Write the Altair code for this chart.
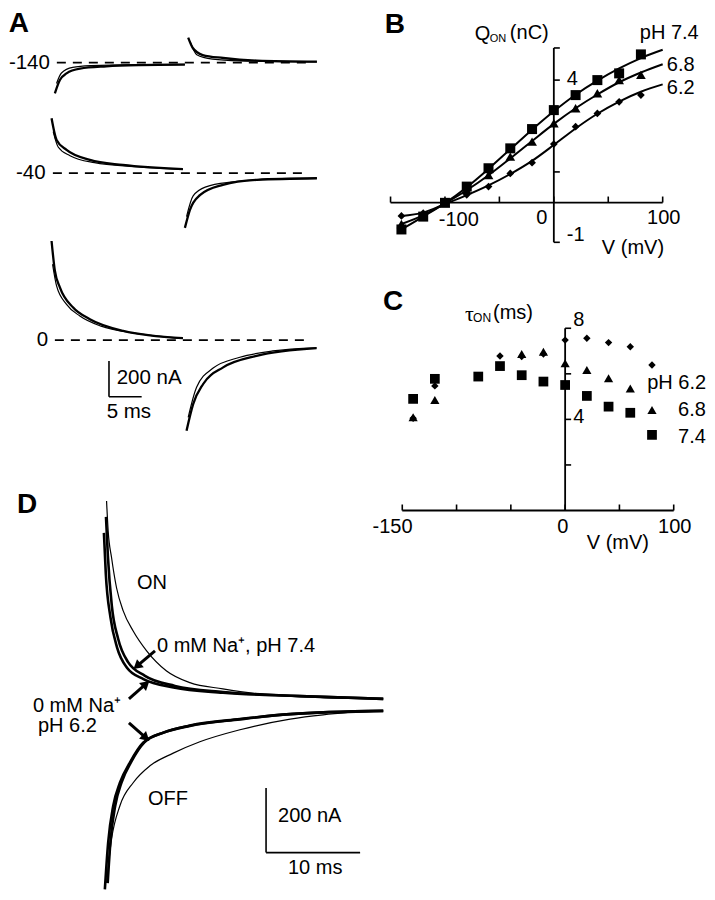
import math
import altair as alt
import pandas as pd

FONT = "Liberation Sans"

# ================= Panel A : currents (ms, nA from each row's own baseline) =================
A_m140_on_thick_t = [0.0, 0.76, 1.77, 3.8, 7.8, 12.9, 19.7]
A_m140_on_thick_i = [-176, -100, -62, -35, -22, -15, -12]
A_m140_on_thin_t = [0.25, 1.0, 2.7, 5.5, 12.0, 19.7]
A_m140_on_thin_i = [-120, -60, -28, -18, -12, -11]
A_m140_off_thick_t = [20.2, 20.9, 22.4, 25.5, 30.6, 39.7]
A_m140_off_thick_i = [142, 83, 43, 26, 11, 5]
A_m140_off_thin_t = [20.5, 21.5, 23.9, 28.0, 39.7]
A_m140_off_thin_i = [119, 45, 20, 10, 4]

A_m40_on_thick_t = [-0.5, 0.26, 1.77, 5.3, 10.3, 19.4]
A_m40_on_thick_i = [314, 190, 133, 76, 47, 23]
A_m40_on_thin_t = [-0.25, 0.5, 2.3, 6.0, 12.0, 19.4]
A_m40_on_thin_i = [238, 150, 100, 60, 38, 22]
A_m40_off_thick_t = [19.7, 20.45, 21.97, 25.45, 30.6, 39.7]
A_m40_off_thick_i = [-313, -211, -126, -67, -38, -29]
A_m40_off_thin_t = [19.95, 20.95, 22.9, 27.0, 33.0, 39.7]
A_m40_off_thin_i = [-248, -130, -78, -50, -33, -28]

A_0_on_thick_t = [-0.5, 0.0, 0.76, 2.77, 5.3, 10.35, 19.4]
A_0_on_thick_i = [567, 397, 302, 186, 120, 53, 11]
A_0_on_thin_t = [-0.35, 0.26, 1.77, 3.79, 7.0, 12.0, 19.4]
A_0_on_thin_i = [434, 310, 205, 138, 80, 40, 10]
A_0_off_thick_t = [19.95, 20.95, 22.47, 25.5, 30.56, 39.65]
A_0_off_thick_i = [-518, -366, -251, -156, -90, -46]
A_0_off_thin_t = [20.2, 21.47, 23.98, 28.03, 33.0, 39.65]
A_0_off_thin_i = [-442, -270, -160, -98, -62, -44]

A_row_labels = ["-140", "-40", "0"]

# ================= Panel B : Q_ON (nC) vs V (mV) =================
B_V = [-140, -120, -100, -80, -60, -40, -20, 0, 20, 40, 60, 80]
B_Q74 = [-0.88, -0.46, -0.01, 0.52, 1.12, 1.77, 2.40, 3.02, 3.51, 4.00, 4.22, 4.84]
B_Q68 = [-0.70, -0.42, -0.01, 0.41, 0.90, 1.50, 1.99, 2.59, 3.08, 3.57, 4.00, 4.17]
B_Q62 = [-0.44, -0.35, -0.01, 0.25, 0.52, 0.95, 1.30, 1.91, 2.48, 2.91, 3.29, 3.51]
B_fit_V = [-140, -120, -100, -80, -60, -40, -20, 0, 20, 40, 60, 80, 100]
B_fit74 = [-0.88, -0.46, -0.02, 0.50, 1.10, 1.74, 2.38, 2.98, 3.52, 3.98, 4.38, 4.72, 4.99]
B_fit68 = [-0.70, -0.42, -0.03, 0.40, 0.89, 1.44, 2.01, 2.57, 3.08, 3.53, 3.93, 4.25, 4.52]
B_fit62 = [-0.44, -0.33, -0.05, 0.24, 0.56, 0.93, 1.36, 1.88, 2.42, 2.90, 3.30, 3.62, 3.86]
B_xticks = [-150, -100, -50, 0, 50, 100]
B_yticks = [-1.3, 1, 4, 5.05]

# ================= Panel C : tau_ON (ms) vs V (mV) =================
C_V74 = [-140, -120, -80, -60, -40, -20, 0, 20, 40, 60, 80]
C_T74 = [4.90, 5.78, 5.88, 6.34, 5.94, 5.66, 5.51, 5.03, 4.56, 4.29, 3.32]
C_V68 = [-140, -120, -40, -20, 0, 20, 40, 60, 80]
C_T68 = [4.09, 4.85, 6.87, 6.97, 6.46, 6.17, 5.81, 5.36, 4.41]
C_V62 = [-140, -120, -60, -40, -20, 0, 20, 40, 60, 80]
C_T62 = [4.05, 5.47, 6.78, 6.76, 6.87, 7.48, 7.56, 7.37, 7.19, 6.39]
C_xticks = [-150, -100, -50, 0, 50, 100]
C_yticks = [2, 4, 6, 8]

# ================= Panel D : ON / OFF currents (ms, nA from own baseline) =================
D_on_thin_t = [0.18, 0.35, 0.71, 1.24, 1.95, 3.01, 4.44, 6.56, 9.04, 12.55, 16.5, 20.7, 29.6]
D_on_thin_i = [609, 517, 435, 342, 271, 209, 148, 86, 50, 31, 15, 6, 0]
D_on_thickA_t = [-0.1, 0.1, 0.6, 1.3, 2.35, 4.1, 7.3, 12.55, 20.7, 29.6]
D_on_thickA_i = [511, 385, 250, 158, 96, 61, 35, 19, 9, 0]
D_on_thickB_t = [0.12, 0.32, 0.74, 1.41, 2.45, 4.26, 7.45, 12.55, 20.7, 29.6]
D_on_thickB_i = [560, 440, 286, 185, 114, 71, 40, 21, 9, 0]
D_off_thin_t = [0.18, 0.71, 1.6, 3.01, 4.79, 7.27, 10.1, 14.36, 19.7, 23.2, 29.6]
D_off_thin_i = [-529, -395, -292, -221, -169, -130, -95, -58, -25, -12, 0]
D_off_thickA_t = [0.0, 0.35, 0.89, 1.6, 2.66, 4.07, 6.2, 9.04, 14.36, 19.7, 29.6]
D_off_thickA_i = [-549, -405, -292, -221, -159, -98, -67, -46, -26, -10, 0]
D_off_thickB_t = [0.3, 0.6, 1.1, 1.8, 2.8, 4.2, 6.3, 9.04, 14.36, 19.7, 29.6]
D_off_thickB_i = [-530, -400, -292, -218, -157, -97, -66, -45, -25, -10, 0]

# ================= layout: two columns, each one layered view with independent scales =====
L_W, L_H = 379, 881          # left column (A over D)
R_W, R_H = 300, 522          # right column (B over C)
A_XD, A_YD = [-7.1, 50.32], [-3140, 1900]
D_XD, D_YD = [-10.3, 30.0], [-548, 2163]
B_XD, B_YD = [-150.5, 125.1], [-10.70, 6.356]
C_XD, C_YD = [-161.3, 115], [-0.856, 22.06]
A_SHIFT = {"-140": 1588, "-40": 955, "0": 0}
D_ON_SHIFT = 37


def X(field, dom):
    return alt.X(f"{field}:Q", scale=alt.Scale(domain=dom, nice=False, zero=False), axis=None)


def Y(field, dom):
    return alt.Y(f"{field}:Q", scale=alt.Scale(domain=dom, nice=False, zero=False), axis=None)


def text_layer(rows, xd, yd, size, align="left", baseline="middle", weight="normal", font=FONT):
    df = pd.DataFrame(rows, columns=["x", "y", "text"])
    return alt.Chart(df).mark_text(
        align=align, baseline=baseline, fontSize=size, fontWeight=weight, font=font, color="black"
    ).encode(x=X("x", xd), y=Y("y", yd), text="text:N")


def rule_layer(rows, xd, yd, width=1.5, dash=None):
    df = pd.DataFrame(rows, columns=["x", "x2", "y", "y2"])
    kw = dict(color="black", strokeWidth=width)
    if dash:
        kw["strokeDash"] = dash
    return alt.Chart(df).mark_rule(**kw).encode(
        x=X("x", xd), x2="x2:Q", y=Y("y", yd), y2="y2:Q")


def traces_df(traces):
    rows = []
    for name, ts, vs, shift in traces:
        for t, v in zip(ts, vs):
            rows.append({"trace": name, "t": t, "i": v + shift})
    return pd.DataFrame(rows)


def line_layer(df, xd, yd, width, xf="t", yf="i"):
    return alt.Chart(df).mark_line(color="black", strokeWidth=width, interpolate="monotone").encode(
        x=X(xf, xd), y=Y(yf, yd), detail="trace:N")


def points_layer(vs, qs, shape, size, xd, yd):
    df = pd.DataFrame({"v": vs, "q": qs})
    return alt.Chart(df).mark_point(shape=shape, filled=True, size=size, color="black", opacity=1).encode(
        x=X("v", xd), y=Y("q", yd))


def ticks_layer(vals, fixed, orient, xd, yd, length=6):
    if orient == "vertical":
        df = pd.DataFrame({"x": vals, "y": [fixed] * len(vals)})
        mk = alt.Chart(df).mark_tick(orient="vertical", size=length, thickness=1.6, color="black",
                                     yOffset=-length / 2, opacity=1)
    else:
        df = pd.DataFrame({"x": [fixed] * len(vals), "y": vals})
        mk = alt.Chart(df).mark_tick(orient="horizontal", size=length, thickness=1.6, color="black",
                                     xOffset=length / 2, opacity=1)
    return mk.encode(x=X("x", xd), y=Y("y", yd))


# ---------------- Panel A ----------------
A_thick = traces_df([
    ("a1", A_m140_on_thick_t, A_m140_on_thick_i, A_SHIFT["-140"]),
    ("a2", A_m140_off_thick_t, A_m140_off_thick_i, A_SHIFT["-140"]),
    ("a3", A_m40_on_thick_t, A_m40_on_thick_i, A_SHIFT["-40"]),
    ("a4", A_m40_off_thick_t, A_m40_off_thick_i, A_SHIFT["-40"]),
    ("a5", A_0_on_thick_t, A_0_on_thick_i, A_SHIFT["0"]),
    ("a6", A_0_off_thick_t, A_0_off_thick_i, A_SHIFT["0"]),
])
A_thin = traces_df([
    ("b1", A_m140_on_thin_t, A_m140_on_thin_i, A_SHIFT["-140"]),
    ("b2", A_m140_off_thin_t, A_m140_off_thin_i, A_SHIFT["-140"]),
    ("b3", A_m40_on_thin_t, A_m40_on_thin_i, A_SHIFT["-40"]),
    ("b4", A_m40_off_thin_t, A_m40_off_thin_i, A_SHIFT["-40"]),
    ("b5", A_0_on_thin_t, A_0_on_thin_i, A_SHIFT["0"]),
    ("b6", A_0_off_thin_t, A_0_off_thin_i, A_SHIFT["0"]),
])
panelA = alt.layer(
    rule_layer([(0.3, 39.0, A_SHIFT["-140"], A_SHIFT["-140"]),
                (-0.3, 38.1, A_SHIFT["-40"], A_SHIFT["-40"]),
                (0.0, 38.3, A_SHIFT["0"], A_SHIFT["0"])], A_XD, A_YD, width=1.8, dash=[9, 7]),
    line_layer(A_thin, A_XD, A_YD, 1.2),
    line_layer(A_thick, A_XD, A_YD, 2.3),
    rule_layer([(8.2, 8.2, -120, -324), (8.2, 13.15, -324, -324)], A_XD, A_YD, width=1.6),
    text_layer([(-0.75, A_SHIFT["-140"], A_row_labels[0]),
                (-1.4, A_SHIFT["-40"], A_row_labels[1]),
                (-1.0, A_SHIFT["0"], A_row_labels[2])], A_XD, A_YD, 20.5, align="right"),
    text_layer([(9.36, -219, "200 nA"), (7.85, -410, "5 ms")], A_XD, A_YD, 20.5),
    text_layer([(-7.0, 1762, "A")], A_XD, A_YD, 28, baseline="alphabetic", weight="bold"),
)

# ---------------- Panel D ----------------
D_thin = traces_df([
    ("on_thin", D_on_thin_t, D_on_thin_i, D_ON_SHIFT),
    ("off_thin", D_off_thin_t, D_off_thin_i, 0),
])
D_thick = traces_df([
    ("on_a", D_on_thickA_t, D_on_thickA_i, D_ON_SHIFT),
    ("on_b", D_on_thickB_t, D_on_thickB_i, D_ON_SHIFT),
    ("off_a", D_off_thickA_t, D_off_thickA_i, 0),
    ("off_b", D_off_thickB_t, D_off_thickB_i, 0),
])
D_arrows = [((5.33, 185), (3.41, 138)), ((2.56, 37), (4.37, 83)), ((2.56, -37), (4.37, -83))]
kx = L_W / (D_XD[1] - D_XD[0])
ky = L_H / (D_YD[1] - D_YD[0])
arrow_rows, head_rows = [], []
for k, ((t0, i0), (t1, i1)) in enumerate(D_arrows):
    arrow_rows.append({"trace": f"ar{k}", "t": t0, "i": i0})
    arrow_rows.append({"trace": f"ar{k}", "t": t1, "i": i1})
    dx = (t1 - t0) * kx
    dy = -(i1 - i0) * ky
    ang = math.degrees(math.atan2(dx, -dy)) % 360
    head_rows.append({"t": t1, "i": i1, "ang": ang})
shafts = alt.Chart(pd.DataFrame(arrow_rows)).mark_line(color="black", strokeWidth=3).encode(
    x=X("t", D_XD), y=Y("i", D_YD), detail="trace:N")
heads = alt.Chart(pd.DataFrame(head_rows)).mark_point(
    shape="triangle-up", filled=True, size=110, color="black", opacity=1).encode(
    x=X("t", D_XD), y=Y("i", D_YD), angle=alt.Angle("ang:Q", scale=None))

panelD = alt.layer(
    line_layer(D_thin, D_XD, D_YD, 1.2),
    line_layer(D_thick, D_XD, D_YD, 2.6),
    shafts, heads,
    rule_layer([(17.14, 17.14, -237, -436), (17.14, 27.14, -436, -436)], D_XD, D_YD, width=1.6),
    text_layer([(3.41, 394, "ON"), (5.54, 200, "0 mM Na\u207a, pH 7.4"),
                (-7.65, 16, "0 mM Na\u207a"), (-7.12, -47, "pH 6.2"),
                (4.59, -271, "OFF"), (18.41, -323, "200 nA"), (19.47, -483, "10 ms")],
               D_XD, D_YD, 20),
    text_layer([(-9.35, 609, "D")], D_XD, D_YD, 28, baseline="alphabetic", weight="bold"),
)

# ---------------- Panel B ----------------
B_fit = pd.DataFrame(
    [{"trace": "7.4", "t": v, "i": q} for v, q in zip(B_fit_V, B_fit74)]
    + [{"trace": "6.8", "t": v, "i": q} for v, q in zip(B_fit_V, B_fit68)]
    + [{"trace": "6.2", "t": v, "i": q} for v, q in zip(B_fit_V, B_fit62)]
)
panelB = alt.layer(
    rule_layer([(-150, 100, 0, 0), (0, 0, -1.3, 5.05)], B_XD, B_YD, width=1.8),
    ticks_layer(B_xticks, 0, "vertical", B_XD, B_YD),
    ticks_layer(B_yticks, 0, "horizontal", B_XD, B_YD),
    line_layer(B_fit, B_XD, B_YD, 2.0),
    points_layer(B_V, B_Q62, "diamond", 60, B_XD, B_YD),
    points_layer(B_V, B_Q68, "triangle-up", 95, B_XD, B_YD),
    points_layer(B_V, B_Q74, "square", 100, B_XD, B_YD),
    text_layer([(-87.3, -0.57, "-100"), (-11, -0.51, "0"), (101, -0.51, "100")],
               B_XD, B_YD, 20, align="center"),
    text_layer([(11.9, 4.04, "4"), (11.9, -1.06, "-1"), (44.1, -1.49, "V (mV)"),
                (-72.6, 5.52, "Q"), (-40.4, 5.54, "(nC)"),
                (79, 5.54, "pH 7.4"), (103.8, 4.49, "6.8"), (103.8, 3.74, "6.2")],
               B_XD, B_YD, 20),
    text_layer([(-58.8, 5.34, "ON")], B_XD, B_YD, 11),
    text_layer([(-155.3, 5.54, "B")], B_XD, B_YD, 28, baseline="alphabetic", weight="bold"),
)

# ---------------- Panel C ----------------
panelC = alt.layer(
    rule_layer([(-150, 100, 0, 0), (0, 0, 0, 8)], C_XD, C_YD, width=1.8),
    ticks_layer(C_xticks, 0, "vertical", C_XD, C_YD),
    ticks_layer(C_yticks, 0, "horizontal", C_XD, C_YD),
    points_layer(C_V62, C_T62, "diamond", 55, C_XD, C_YD),
    points_layer(C_V68, C_T68, "triangle-up", 85, C_XD, C_YD),
    points_layer(C_V74, C_T74, "square", 95, C_XD, C_YD),
    text_layer([(-159, -0.71, "-150"), (-2.2, -0.71, "0"), (101, -0.71, "100")],
               C_XD, C_YD, 20, align="center"),
    text_layer([(7.4, 8.36, "8"), (7.4, 4.10, "4"), (19.9, -1.44, "V (mV)"),
                (-66.4, 8.67, "(ms)"),
                (75.6, 5.60, "pH 6.2"), (104, 4.41, "6.8"), (104, 3.23, "7.4")],
               C_XD, C_YD, 20),
    text_layer([(-92.2, 8.64, "\u03c4")], C_XD, C_YD, 22, font="Liberation Serif"),
    text_layer([(-84.8, 8.43, "ON")], C_XD, C_YD, 12),
    text_layer([(-167.7, 8.80, "C")], C_XD, C_YD, 28, baseline="alphabetic", weight="bold"),
)

left_col = alt.layer(panelA, panelD).resolve_scale(x="independent", y="independent").properties(
    width=L_W, height=L_H)
right_col = alt.layer(panelB, panelC).resolve_scale(x="independent", y="independent").properties(
    width=R_W, height=R_H)
chart = alt.hconcat(left_col, right_col, spacing=3, bounds="flush", padding=0).configure(
    font=FONT, view=alt.ViewConfig(stroke=None, strokeWidth=0))

chart.save("out.html", embed_options={"renderer": "svg", "actions": False})
